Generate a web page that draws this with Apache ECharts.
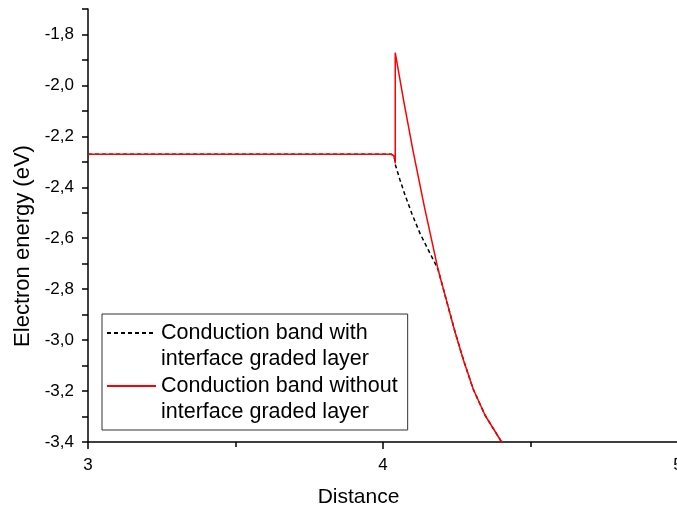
<!DOCTYPE html>
<html>
<head>
<meta charset="utf-8">
<script src="https://cdn.jsdelivr.net/npm/echarts@6/dist/echarts.min.js"></script>
<style>
html,body{margin:0;padding:0;background:#fff;}
#chart{width:677px;height:512px;}
</style>
</head>
<body>
<div id="chart"></div>
<script>
// Data
const seriesNames = ['Conduction band with\ninterface graded layer', 'Conduction band without\ninterface graded layer'];
const xTitle = 'Distance';
const yTitle = 'Electron energy (eV)';

const withX = [3.0, 4.029, 4.036, 4.0395, 4.0415, 4.0576, 4.0746, 4.0973, 4.1254, 4.1536, 4.1763, 4.187, 4.216, 4.244, 4.273, 4.306, 4.346, 4.402, 4.43];
const withY = [-2.2705, -2.2705, -2.276, -2.29, -2.31, -2.371, -2.43, -2.502, -2.581, -2.646, -2.698, -2.724, -2.848, -2.967, -3.079, -3.193, -3.295, -3.40, -3.445];

const withoutX = [3.0, 4.029, 4.036, 4.040, 4.0415, 4.0415, 4.07, 4.1017, 4.14, 4.187, 4.216, 4.244, 4.273, 4.306, 4.346, 4.402, 4.43];
const withoutY = [-2.2705, -2.2705, -2.276, -2.288, -2.306, -1.8716, -2.06, -2.256, -2.475, -2.724, -2.848, -2.967, -3.079, -3.193, -3.295, -3.40, -3.445];

const xMin = 3, xMax = 5, xStep = 1;
const yMin = -3.4, yMax = -1.7, yStep = 0.1;

const zip = (xs, ys) => xs.map((x, i) => [x, ys[i]]);
const FONT = '"Liberation Sans", Arial, sans-serif';

const chart = echarts.init(document.getElementById('chart'), null, {renderer: 'canvas'});
chart.setOption({
  animation: false,
  backgroundColor: '#fff',
  grid: {left: 88, top: 9, width: 590, height: 433, containLabel: false, outerBoundsMode: 'none'},
  legend: {
    orient: 'vertical',
    left: 102,
    top: 314,
    padding: [-20, 10, 5, 4],
    itemGap: -25,
    itemWidth: 49,
    itemHeight: 12,
    borderColor: '#333',
    borderWidth: 1,
    backgroundColor: '#fff',
    data: seriesNames,
    formatter: name => '\n' + name,
    itemStyle: {opacity: 0},
    textStyle: {
      fontFamily: FONT,
      fontSize: 21.5,
      color: '#000',
      lineHeight: 26
    }
  },
  xAxis: {
    type: 'value',
    min: xMin, max: xMax, interval: xStep,
    name: xTitle,
    nameLocation: 'middle',
    nameGap: 45,
    nameTextStyle: {fontFamily: FONT, fontSize: 21, color: '#000', padding: [0, 49, 0, 0]},
    axisLine: {show: true, onZero: false, lineStyle: {color: '#000', width: 1.5}},
    axisTick: {show: true, inside: false, length: 7, lineStyle: {color: '#000', width: 1.5}},
    minorTick: {show: true, splitNumber: 2, length: 5, lineStyle: {color: '#000', width: 1.5}},
    axisLabel: {fontFamily: FONT, fontSize: 17, color: '#000', margin: 15,
      formatter: v => String(Math.round(v))},
    splitLine: {show: false},
    minorSplitLine: {show: false}
  },
  yAxis: {
    type: 'value',
    min: yMin, max: yMax, interval: yStep,
    name: yTitle,
    nameLocation: 'middle',
    nameGap: 54,
    nameTextStyle: {fontFamily: FONT, fontSize: 22, color: '#000', padding: [0, 41, 0, 0]},
    axisLine: {show: true, onZero: false, lineStyle: {color: '#000', width: 1.5}},
    axisTick: {show: true, inside: false, length: 6, lineStyle: {color: '#000', width: 1.5}},
    axisLabel: {fontFamily: FONT, fontSize: 17, color: '#000', margin: 14,
      formatter: v => {
        const t = Math.round(v * 10);
        return (t % 2 === 0) ? v.toFixed(1).replace('.', ',') : '';
      }},
    splitLine: {show: false}
  },
  series: [
    {
      name: seriesNames[0],
      type: 'line',
      data: zip(withX, withY),
      symbol: 'none',
      clip: true,
      lineStyle: {color: '#000', width: 1.5, type: [4, 3]},
      itemStyle: {color: '#000'},
      z: 2
    },
    {
      name: seriesNames[1],
      type: 'line',
      data: zip(withoutX, withoutY),
      symbol: 'none',
      clip: true,
      lineStyle: {color: '#ff0000', width: 1.5, type: 'solid'},
      itemStyle: {color: '#ff0000'},
      z: 3
    }
  ]
});
</script>
</body>
</html>
